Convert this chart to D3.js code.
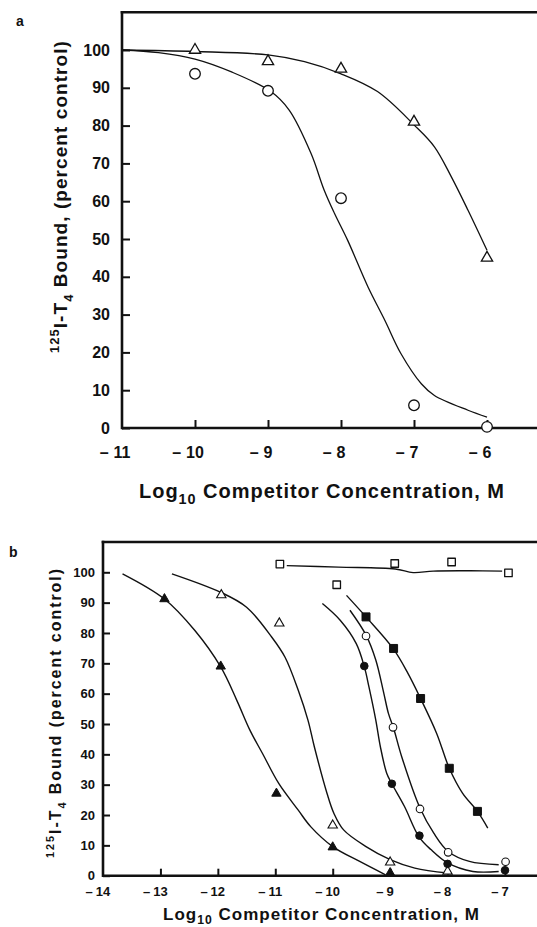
<!DOCTYPE html>
<html><head><meta charset="utf-8">
<script src="https://cdn.jsdelivr.net/npm/d3@7/dist/d3.min.js"></script>
<style>
html,body{margin:0;padding:0;background:#fff;}
svg{display:block;}
text{font-family:"Liberation Sans", Arial, Helvetica, sans-serif; font-weight:bold; fill:#111;}
</style></head><body>
<svg id="chart" width="537" height="927"></svg>
<script>
// ---------- Panel a data ----------
const aXTicks = [-11, -10, -9, -8, -7, -6];
const aYTicks = [0, 10, 20, 30, 40, 50, 60, 70, 80, 90, 100];
const aTriangleX = [-10, -9, -8, -7, -6];
const aTriangleY = [100, 97, 95, 81, 45];
const aCircleX = [-10, -9, -8, -7, -6];
const aCircleY = [93.7, 89.2, 60.8, 6, 0.3];
const aTriangleCurve = [[-11,100],[-10,99.6],[-9,98.7],[-8.5,96.9],[-8,93.7],[-7.5,89],[-7,80.2],[-6.72,74.4],[-6.49,66.5],[-6.26,57.6],[-6,47]];
const aCircleCurve = [[-11,100],[-10.5,99.3],[-10,97.6],[-9.5,94.2],[-8.96,89],[-8.71,84.1],[-8.41,72.6],[-8.23,62.9],[-8.09,56.8],[-7.91,49.7],[-7.63,37.3],[-7.4,28.5],[-7.18,19.7],[-6.9,11.7],[-6.72,8.6],[-6.26,4.7],[-6,2.9]];

// ---------- Panel b data ----------
const bXTicks = [-14, -13, -12, -11, -10, -9, -8, -7];
const bYTicks = [0, 10, 20, 30, 40, 50, 60, 70, 80, 90, 100];
const bOpenSquareX = [-10.92, -9.93, -8.92, -7.93, -6.94];
const bOpenSquareY = [102.7, 95.9, 102.9, 103.4, 99.8];
const bOpenSquareCurve = [[-10.8,102.2],[-9.9,101.7],[-8.91,101.1],[-8.6,99.9],[-8.25,100.4],[-7.6,100.5],[-7.05,100.4]];
const bFilledTriangleX = [-12.93, -11.95, -10.98, -10, -9];
const bFilledTriangleY = [91.2, 69, 27.1, 9.4, 0.9];
const bFilledTriangleCurve = [[-13.66,99.5],[-12.93,91.2],[-12.4,80.8],[-11.95,68.8],[-11.67,57.8],[-11.44,47.9],[-11.22,40.2],[-10.94,30.4],[-10.6,21.6],[-10.38,16.1],[-10,9.6],[-9.53,4.7],[-9.08,0.3]];
const bOpenTriangleX = [-11.94, -10.93, -10, -9, -8];
const bOpenTriangleY = [92.5, 83.2, 16.6, 4.4, 1.4];
const bOpenTriangleCurve = [[-12.8,99.5],[-11.95,93.4],[-11.5,88.5],[-11.06,78.6],[-10.83,72],[-10.6,61.1],[-10.43,51.2],[-10.32,42.5],[-10.1,27.2],[-9.98,20.6],[-9.81,15.1],[-9.42,9.6],[-9,5.3],[-8.57,2.5],[-8,0.9]];
const bFilledCircleX = [-9.45, -8.97, -8.49, -8, -7];
const bFilledCircleY = [69.1, 30.3, 13.2, 3.9, 1.8];
const bFilledCircleCurve = [[-10.18,89.7],[-9.87,84.2],[-9.59,76.5],[-9.45,68.9],[-9.37,62.3],[-9.25,51.3],[-9.17,42.5],[-9.06,33.8],[-8.97,30.3],[-8.75,22.8],[-8.5,12.9],[-8.29,8.6],[-8,4.2],[-7.56,1.4],[-7.11,1.4]];
const bOpenCircleX = [-9.42, -8.95, -8.48, -7.99, -6.99];
const bOpenCircleY = [79, 48.9, 22, 7.7, 4.6];
const bOpenCircleCurve = [[-9.7,87.5],[-9.42,79.3],[-9.25,71.1],[-9.11,60.1],[-9.03,53.5],[-8.94,48.6],[-8.8,39.3],[-8.48,22.3],[-8.24,14],[-7.99,8],[-7.62,4.7],[-7.11,3.6]];
const bFilledSquareX = [-9.42, -8.94, -8.47, -7.97, -7.48];
const bFilledSquareY = [85.3, 74.9, 58.4, 35.4, 21.2];
const bFilledSquareCurve = [[-9.76,92.4],[-9.42,85.3],[-8.95,74.9],[-8.69,66.7],[-8.47,58.4],[-8.19,46.9],[-7.97,35.4],[-7.74,27.2],[-7.48,21.2],[-7.3,15.7]];

const yTitleA = ["125", "I-T", "4", " Bound, (percent control)"];
const yTitleB = ["125", "I-T", "4", " Bound (percent control)"];
const xTitle = ["Log", "10", " Competitor Concentration, M"];

// ---------- drawing ----------
const W = 537;
const svg = d3.select("#chart");
const ink = "#111";

function fitText(sel, target) {
  const w = sel.node().getComputedTextLength();
  const n = sel.text().length;
  sel.style("letter-spacing", ((target - w) / n) + "px");
}

function panel(cfg) {
  const g = svg.append("g");
  const x = d3.scaleLinear().domain(cfg.xDomain).range(cfg.xRange);
  const y = d3.scaleLinear().domain([0, 100]).range(cfg.yRange);
  const top = y(110), x0 = x(cfg.xDomain[0]), y0 = y(0);

  // curves
  const line = d3.line().x(d => x(d[0])).y(d => y(d[1])).curve(d3.curveCatmullRom.alpha(0.5));
  cfg.curves.forEach(c => {
    g.append("path").attr("d", line(c)).attr("fill", "none")
      .attr("stroke", ink).attr("stroke-width", cfg.curveW);
  });

  // axes frame
  g.append("line").attr("x1", x0).attr("x2", W).attr("y1", y0).attr("y2", y0)
    .attr("stroke", ink).attr("stroke-width", 2.6);
  g.append("line").attr("x1", x0).attr("x2", x0).attr("y1", y0 + 1.3).attr("y2", top - 1.3)
    .attr("stroke", ink).attr("stroke-width", 2.6);
  g.append("line").attr("x1", x0 - 1.3).attr("x2", W).attr("y1", top).attr("y2", top)
    .attr("stroke", ink).attr("stroke-width", 2.6);

  // y axis ticks + labels
  const ya = d3.axisLeft(y).tickValues(cfg.yTicks).tickSize(-cfg.tick).tickPadding(cfg.yPad).tickFormat(d3.format("d"));
  const yg = g.append("g").attr("transform", `translate(${x0},0)`).call(ya);
  yg.select(".domain").remove();
  yg.selectAll(".tick line").attr("stroke", ink).attr("stroke-width", 2);
  yg.selectAll(".tick text").attr("fill", ink).style("font-size", cfg.yFont + "px")
    .style("font-family", '"Liberation Sans", Arial, sans-serif').style("font-weight", "bold");

  // x axis ticks
  const xa = d3.axisBottom(x).tickValues(cfg.xTicks.slice(1)).tickSize(-cfg.tick).tickFormat("");
  const xg = g.append("g").attr("transform", `translate(0,${y0})`).call(xa);
  xg.select(".domain").remove();
  xg.selectAll(".tick line").attr("stroke", ink).attr("stroke-width", 2);

  // x tick labels: digits centred on the tick, minus hanging left
  const lab = g.append("g").selectAll("g").data(cfg.xTicks).join("g");
  lab.each(function (t) {
    const s = d3.select(this);
    const d = s.append("text").attr("x", x(t)).attr("y", cfg.xLabY).attr("text-anchor", "middle")
      .style("font-size", cfg.xFont + "px").text(Math.abs(t));
    const w = d.node().getComputedTextLength();
    s.append("text").attr("x", x(t) - w / 2 - cfg.minusGap).attr("y", cfg.xLabY).attr("text-anchor", "end")
      .style("font-size", cfg.xFont + "px").text("\u2013");
  });

  // markers
  const tri = (sz) => d3.symbol().type(d3.symbolTriangle).size(sz)();
  cfg.markers.forEach(m => {
    const pts = m.x.map((v, i) => [v, m.y[i]]);
    const sel = g.append("g").selectAll("path").data(pts).join("path")
      .attr("transform", d => `translate(${x(d[0])},${y(d[1])})`)
      .attr("fill", m.filled ? ink : "#fff").attr("stroke", ink).attr("stroke-width", m.sw);
    if (m.shape === "circle") {
      sel.attr("d", d3.arc()({innerRadius: 0, outerRadius: m.size, startAngle: 0, endAngle: 2 * Math.PI}));
    } else if (m.shape === "square") {
      const s = m.size / 2;
      sel.attr("d", `M${-s},${-s}H${s}V${s}H${-s}Z`).attr("stroke-linejoin", "round");
    } else {
      sel.attr("d", tri(m.size)).attr("stroke-linejoin", "miter");
    }
  });

  // x title
  const xt = g.append("text").attr("x", cfg.xTitleX).attr("y", cfg.xTitleY)
    .style("font-size", cfg.xTitleFont + "px");
  xt.append("tspan").text(xTitle[0]);
  xt.append("tspan").attr("dy", cfg.xTitleFont * cfg.subDy).style("font-size", (cfg.xTitleFont * 0.72) + "px").text(xTitle[1]);
  xt.append("tspan").attr("dy", -cfg.xTitleFont * cfg.subDy).text(xTitle[2]);
  fitText(xt, cfg.xTitleW);

  // y title (rotated)
  const yt = g.append("text").attr("transform", `translate(${cfg.yTitleX},${cfg.yTitleY}) rotate(-90)`)
    .attr("text-anchor", "start").style("font-size", cfg.yTitleFont + "px");
  const T = cfg.yTitle, f = cfg.yTitleFont;
  yt.append("tspan").attr("dy", -f * 0.42).style("font-size", (f * 0.68) + "px").text(T[0]);
  yt.append("tspan").attr("dy", f * 0.42).text(T[1]);
  yt.append("tspan").attr("dy", f * 0.3).style("font-size", (f * 0.68) + "px").text(T[2]);
  yt.append("tspan").attr("dy", -f * 0.3).text(T[3]);
  fitText(yt, cfg.yTitleW);

  // panel letter
  g.append("text").attr("x", cfg.letterX).attr("y", cfg.letterY).style("font-size", "14px").text(cfg.letter);
}

panel({
  letter: "a", letterX: 16, letterY: 26,
  xDomain: [-11, -6], xRange: [122, 487], yRange: [428, 50],
  xTicks: aXTicks, yTicks: aYTicks, tick: 8, yPad: 12, yFont: 16, xFont: 16, xLabY: 458, minusGap: 5,
  curveW: 1.3,
  curves: [aTriangleCurve, aCircleCurve],
  markers: [
    {x: aTriangleX, y: aTriangleY, shape: "triangle", size: 55, filled: false, sw: 1.3},
    {x: aCircleX, y: aCircleY, shape: "circle", size: 5.3, filled: false, sw: 1.3}
  ],
  xTitleX: 139, xTitleY: 498, xTitleFont: 20, xTitleW: 366, subDy: 0.32,
  yTitle: yTitleA, yTitleX: 67, yTitleY: 353, yTitleFont: 19, yTitleW: 313
});

panel({
  letter: "b", letterX: 9, letterY: 557,
  xDomain: [-14, -7], xRange: [103, 505], yRange: [875.7, 572.3],
  xTicks: bXTicks, yTicks: bYTicks, tick: 7, yPad: 8, yFont: 13, xFont: 13, xLabY: 896, minusGap: 3,
  curveW: 1.4,
  curves: [bOpenSquareCurve, bFilledTriangleCurve, bOpenTriangleCurve, bFilledCircleCurve, bOpenCircleCurve, bFilledSquareCurve],
  markers: [
    {x: bOpenSquareX, y: bOpenSquareY, shape: "square", size: 7.5, filled: false, sw: 1.3},
    {x: bFilledTriangleX, y: bFilledTriangleY, shape: "triangle", size: 38, filled: true, sw: 1},
    {x: bOpenTriangleX, y: bOpenTriangleY, shape: "triangle", size: 38, filled: false, sw: 1.1},
    {x: bFilledCircleX, y: bFilledCircleY, shape: "circle", size: 3.8, filled: true, sw: 1},
    {x: bOpenCircleX, y: bOpenCircleY, shape: "circle", size: 3.8, filled: false, sw: 1.1},
    {x: bFilledSquareX, y: bFilledSquareY, shape: "square", size: 8, filled: true, sw: 1}
  ],
  xTitleX: 163, xTitleY: 920, xTitleFont: 17, xTitleW: 317, subDy: 0.24,
  yTitle: yTitleB, yTitleX: 61, yTitleY: 858, yTitleFont: 16, yTitleW: 291
});
</script>
</body></html>
